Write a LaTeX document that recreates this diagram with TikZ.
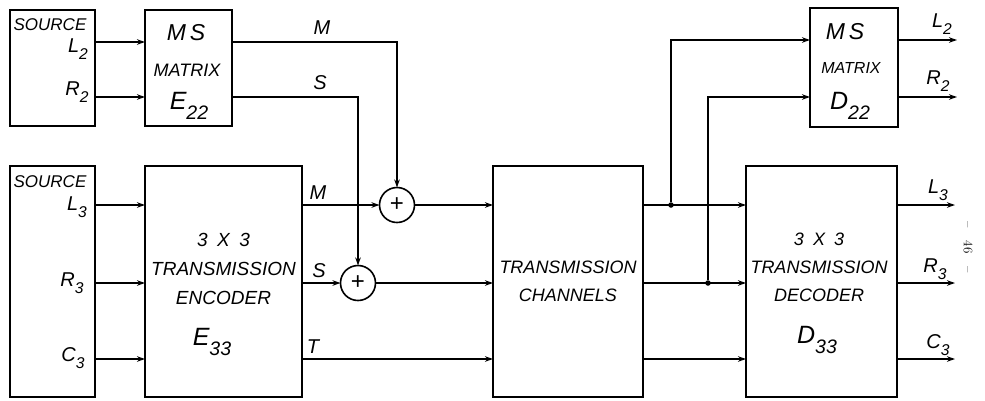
\documentclass[tikz,border=0pt]{standalone}
\usepackage{fontspec}
\setsansfont{Liberation Sans}
\usepackage{graphicx}
\usetikzlibrary{arrows.meta}
\newcommand{\lowidx}[2]{#1\raisebox{-0.38em}{\scalebox{0.78}{#2}}}

\begin{document}
\begin{tikzpicture}[x=1pt,y=-1pt,
    line width=1.6pt, line cap=butt, line join=miter,
    every node/.style={inner sep=0pt,outer sep=0pt},
    blk/.style={draw,rectangle,line width=2.4pt},
    sum/.style={draw,circle,line width=1.6pt,minimum size=35pt,
      font=\sffamily\fontsize{24}{24}\selectfont},
    sig/.style={-{Stealth[length=8pt,width=5.5pt]}},
    jdot/.style={circle,fill,minimum size=5.5pt},
    lab/.style={font=\sffamily\itshape\fontsize{18}{18}\selectfont},
    big/.style={font=\sffamily\itshape\fontsize{25}{25}\selectfont},
    io/.style={font=\sffamily\itshape\fontsize{20}{20}\selectfont}]
  \useasboundingbox (0,0) rectangle (985,400);
  % ---- 方框 ----
  \node[blk,minimum width=85pt,minimum height=116pt]  (srcTwo)   at ( 52.5, 68.0) {};
  \node[blk,minimum width=87pt,minimum height=116pt]  (msEnc)    at (188.5, 68.0) {};
  \node[blk,minimum width=85pt,minimum height=231pt]  (srcThree) at ( 52.5,281.5) {};
  \node[blk,minimum width=157pt,minimum height=231pt] (enc)      at (223.5,281.5) {};
  \node[blk,minimum width=150pt,minimum height=231pt] (chan)     at (568.0,281.5) {};
  \node[blk,minimum width=151pt,minimum height=231pt] (dec)      at (821.5,281.5) {};
  \node[blk,minimum width=88pt,minimum height=119pt]  (msDec)    at (854.0, 67.5) {};
  % ---- 加法器、分支点 ----
  \node[sum] (sumM) at (397,205) {+};
  \node[sum] (sumS) at (358,283) {+};
  \node[jdot] (jM) at (671,205) {};
  \node[jdot] (jS) at (708,283) {};
  % ---- 信号高度 ----
  \coordinate (yLa) at (0, 42);
  \coordinate (yRa) at (0, 97);
  \coordinate (yLb) at (0, 40);
  \coordinate (yRb) at (0, 97);
  \coordinate (yC)  at (0,359);
  \coordinate (oL2) at (957, 40);
  \coordinate (oR2) at (957, 97);
  \coordinate (oL3) at (955,205);
  \coordinate (oR3) at (955,283);
  \coordinate (oC3) at (955,359);
  % ---- 连线：编码端 ----
  \draw[sig] (srcTwo.east |- yLa) -- (msEnc.west |- yLa);
  \draw[sig] (srcTwo.east |- yRa) -- (msEnc.west |- yRa);
  \draw[sig] (srcThree.east |- sumM) -- (enc.west |- sumM);
  \draw[sig] (srcThree.east |- sumS) -- (enc.west |- sumS);
  \draw[sig] (srcThree.east |- yC) -- (enc.west |- yC);
  \draw[sig] (msEnc.east |- yLa) -| (sumM.north);
  \draw[sig] (msEnc.east |- yRa) -| (sumS.north);
  \draw[sig] (enc.east |- sumM) -- (sumM.west);
  \draw[sig] (enc.east |- sumS) -- (sumS.west);
  \draw[sig] (sumM.east) -- (chan.west |- sumM);
  \draw[sig] (sumS.east) -- (chan.west |- sumS);
  \draw[sig] (enc.east |- yC) -- (chan.west |- yC);
  % ---- 连线：解码端 ----
  \draw[sig] (chan.east |- jM) -- (dec.west |- jM);
  \draw[sig] (chan.east |- jS) -- (dec.west |- jS);
  \draw[sig] (chan.east |- yC) -- (dec.west |- yC);
  \draw[sig] (jM) |- (msDec.west |- yLb);
  \draw[sig] (jS) |- (msDec.west |- yRb);
  \draw[sig] (msDec.east |- oL2) -- (oL2);
  \draw[sig] (msDec.east |- oR2) -- (oR2);
  \draw[sig] (dec.east |- oL3) -- (oL3);
  \draw[sig] (dec.east |- oR3) -- (oR3);
  \draw[sig] (dec.east |- oC3) -- (oC3);
  % ---- 框内文字 ----
  \node[lab,font=\sffamily\itshape\fontsize{17}{17}\selectfont] (tSrcTwo) at (50, 25) {SOURCE};
  \node[io] (tL2) at (78, 49) {\lowidx{L}{2}};
  \node[io] (tR2) at (77, 92) {\lowidx{R}{2}};
  \node[lab,font=\sffamily\itshape\fontsize{17}{17}\selectfont] (tSrcThree) at (50,182) {SOURCE};
  \node[io] (tL3) at (77,207) {\lowidx{L}{3}};
  \node[io] (tR3) at (72,283) {\lowidx{R}{3}};
  \node[io] (tC3) at (73,358) {\lowidx{C}{3}};
  \node[lab,font=\sffamily\itshape\fontsize{23}{23}\selectfont] (tMSa) at (186, 33) {M\,S};
  \node[lab] (tMXa) at (187, 70) {MATRIX};
  \node[big] (tEa) at (189,106) {\lowidx{E}{22}};
  \node[lab,font=\sffamily\itshape\fontsize{19}{19}\selectfont] (tEnc) at (223.5,272)
    {\begin{tabular}{@{}c@{}}3\enspace X\enspace 3\\[10pt] TRANSMISSION\\[10pt] ENCODER\end{tabular}};
  \node[big] (tEb) at (212,342) {\lowidx{E}{33}};
  \node[lab] (tChan) at (568,284) {\begin{tabular}{@{}c@{}}TRANSMISSION\\[10pt] CHANNELS\end{tabular}};
  \node[lab] (tDec) at (819,270)
    {\begin{tabular}{@{}c@{}}3\enspace X\enspace 3\\[10pt] TRANSMISSION\\[10pt] DECODER\end{tabular}};
  \node[big] (tDb) at (817,340) {\lowidx{D}{33}};
  \node[lab,font=\sffamily\itshape\fontsize{23}{23}\selectfont] (tMSb) at (845, 32) {M\,S};
  \node[lab,font=\sffamily\itshape\fontsize{16}{16}\selectfont] (tMXb) at (851, 68) {MATRIX};
  \node[big] (tDa) at (850,106) {\lowidx{D}{22}};
  % ---- 线旁文字 ----
  \node[io] (tM1) at (322, 28) {M};
  \node[io] (tS1) at (320, 83) {S};
  \node[io] (tM2) at (318,193) {M};
  \node[io] (tS2) at (319,271) {S};
  \node[io] (tT)  at (313,347) {T};
  \node[io] (oL2t) at (942, 24) {\lowidx{L}{2}};
  \node[io] (oR2t) at (938, 81) {\lowidx{R}{2}};
  \node[io] (oL3t) at (938,190) {\lowidx{L}{3}};
  \node[io] (oR3t) at (935,269) {\lowidx{R}{3}};
  \node[io] (oC3t) at (938,345) {\lowidx{C}{3}};
  % ---- 页码 ----
  \node[rotate=-90,font=\rmfamily\fontsize{13}{13}\selectfont] (pg) at (968,247) {--\quad 46\quad --};
\end{tikzpicture}
\end{document}
